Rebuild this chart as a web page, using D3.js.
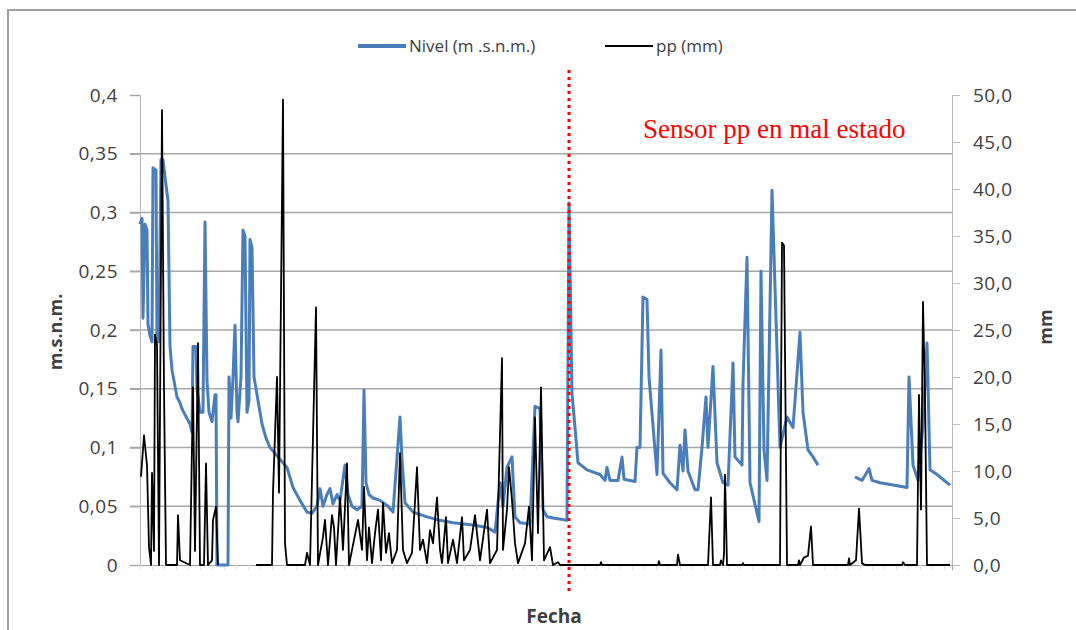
<!DOCTYPE html>
<html>
<head>
<meta charset="utf-8">
<script src="https://cdn.jsdelivr.net/npm/d3@7"></script>
<style>
  body { margin: 0; background: #fff; }
  svg text { font-family: "Open Sans", sans-serif; fill: #404040; }
</style>
</head>
<body>
<svg id="chart" width="1076" height="630"></svg>
<script>
// Nivel (m.s.n.m.) por registro: [registro, valor]; null = sin dato
var nivel = [
  [0,0.29],[2,0.295],[3,0.21],[5,0.29],[7,0.285],[8,0.205],[10,0.195],[12,0.19],[13,0.338],[16,0.336],
  [17,0.19],[19,0.19],[21,0.345],[23,0.345],[25,0.33],[28,0.31],[30,0.186],[32,0.166],[37,0.143],[40,0.138],
  [42,0.133],[45,0.128],[50,0.12],[52,0.113],[53,0.186],[56,0.186],[57,0.15],[60,0.13],[63,0.13],[65,0.292],
  [67,0.157],[69,0.13],[72,0.122],[75,0.145],[76,0.145],[77,0],[88,0],[89,0.16],[91,0.125],[93,0.16],
  [95,0.204],[97,0.13],[98,0.122],[101,0.16],[103,0.285],[105,0.28],[107,0.13],[109,0.14],[110,0.277],[112,0.27],
  [114,0.16],[118,0.14],[122,0.12],[126,0.108],[130,0.1],[135,0.095],[138,0.092],[142,0.088],[147,0.083],[153,0.066],
  [160,0.055],[167,0.045],[172,0.044],[177,0.05],[180,0.065],[183,0.05],[187,0.06],[190,0.065],[193,0.052],[197,0.06],
  [200,0.055],[205,0.085],[208,0.06],[212,0.05],[217,0.047],[222,0.05],[224,0.149],[226,0.07],[229,0.06],[233,0.057],
  [240,0.055],[248,0.05],[253,0.045],[260,0.126],[262,0.09],[265,0.053],[273,0.045],[287,0.041],[300,0.038],[313,0.036],
  [333,0.034],[347,0.032],[355,0.028],[360,0.07],[363,0.05],[367,0.083],[372,0.092],[375,0.041],[380,0.036],[390,0.035],
  [395,0.135],[400,0.133],[403,0.047],[407,0.041],[413,0.04],[427,0.038],[429,0.308],[432,0.146],[435,0.117],[438,0.087],
  [447,0.081],[460,0.077],[465,0.072],[467,0.083],[470,0.072],[478,0.072],[482,0.092],[484,0.073],[495,0.071],[497,0.1],
  [500,0.1],[503,0.228],[507,0.226],[509,0.16],[517,0.077],[521,0.183],[523,0.078],[530,0.07],[537,0.064],[540,0.102],
  [543,0.08],[545,0.115],[548,0.08],[555,0.064],[558,0.064],[562,0.1],[566,0.143],[568,0.1],[573,0.169],[577,0.087],
  [583,0.07],[588,0.068],[593,0.172],[595,0.092],[602,0.085],[603,0.155],[607,0.262],[610,0.07],[619,0.037],[621,0.25],
  [624,0.098],[627,0.072],[632,0.319],[640,0.1],[647,0.126],[653,0.117],[657,0.163],[660,0.198],[663,0.13],[668,0.098],
  [673,0.092],[678,0.085],[679,null],[714,null],[715,0.075],[722,0.072],[729,0.082],[732,0.072],[740,0.07],[753,0.068],
  [767,0.066],[769,0.16],[773,0.085],[778,0.072],[783,0.12],[787,0.189],[790,0.081],[797,0.077],[810,0.068]
];

// pp (mm) por registro: [registro, valor]; null = sin dato
var pp = [
  [1,9.4],[4,13.8],[7,10.6],[9,1.9],[11,0],[12,9.8],[14,1.5],[15,24.5],[17,23.4],[19,0],
  [22,48.4],[24,18.8],[26,0],[37,0],[38,5.3],[40,0.5],[50,0],[53,18.9],[55,1.5],[58,23.6],
  [60,0],[64,0],[66,10.8],[68,0],[72,0.5],[73,4.8],[76,6.2],[78,0],[79,null],[115,null],
  [116,0],[132,0],[133,7.7],[137,20],[139,7.7],[143,49.5],[145,2.3],[147,0],[165,0],[167,1.3],
  [170,0],[176,27.4],[178,0],[183,3],[185,4.8],[188,0],[192,5.3],[194,4],[196,0],[200,7.2],
  [203,1.6],[207,10.8],[209,0],[218,4.8],[222,1.6],[224,8.3],[227,0.5],[229,4],[232,0.2],[235,3.4],
  [238,5.9],[241,0.5],[243,6.6],[246,1.3],[249,3.4],[252,0.2],[257,1.6],[260,11.9],[263,1.6],[267,0.2],
  [272,1.3],[277,10.4],[280,1.6],[283,2.7],[287,0.2],[290,3.7],[293,2.3],[297,7.2],[300,1.6],[302,0.2],
  [306,5.1],[308,0.2],[313,2.7],[317,0.2],[322,5.1],[324,0.5],[330,1.6],[335,5.3],[340,0.5],[347,5.9],
  [350,0.2],[357,1.6],[362,22],[363,1.6],[367,5.9],[369,10.4],[372,6.9],[375,2.3],[378,0.2],[385,2.3],
  [389,6.2],[392,0.5],[395,15.7],[398,3.4],[401,18.9],[404,0.5],[410,1.9],[413,0],[418,0.3],[420,0],
  [460,0],[461,0.3],[462,0],[518,0],[519,0.4],[520,0],[537,0],[538,1.1],[540,0],[568,0],
  [571,7.2],[573,0],[580,0],[581,0.5],[583,0],[584,1.2],[585,9.6],[587,0],[602,0],[603,0.2],
  [604,0],[640,0],[642,34.3],[644,34],[647,0],[658,0],[659,0.5],[660,0],[664,0.8],[668,1],
  [671,4.1],[673,0],[708,0],[709,0.7],[710,0],[716,0.5],[719,6],[722,0.2],[725,0],[762,0],
  [763,0.3],[765,0],[777,0],[779,18.1],[781,5.9],[783,28],[785,18],[787,0],[810,0]
];

// Ticks y etiquetas de los ejes
var nivelTicks = [0, 0.05, 0.1, 0.15, 0.2, 0.25, 0.3, 0.35, 0.4];
var nivelLabels = ["0", "0,05", "0,1", "0,15", "0,2", "0,25", "0,3", "0,35", "0,4"];
var ppTicks = [0, 5, 10, 15, 20, 25, 30, 35, 40, 45, 50];
var ppLabels = ["0,0", "5,0", "10,0", "15,0", "20,0", "25,0", "30,0", "35,0", "40,0", "45,0", "50,0"];

// Registro donde el sensor pp deja de funcionar
var corteRegistro = 429;
var nota = "Sensor pp en mal estado";

var svg = d3.select("#chart");
var plot = {left: 140, right: 952, top: 95, bottom: 565};

var xScale = d3.scaleLinear().domain([0, 812]).range([plot.left, plot.right]);
var yNivel = d3.scaleLinear().domain([0, 0.4]).range([plot.bottom, plot.top]);
var yPp = d3.scaleLinear().domain([0, 50]).range([plot.bottom, plot.top]);

// Marco exterior
svg.append("rect")
   .attr("x", 8).attr("y", 10)
   .attr("width", 1100).attr("height", 700)
   .attr("fill", "none")
   .attr("stroke", "#a0a0a0")
   .attr("stroke-width", 2);

// Lineas de grilla horizontales
svg.append("g")
   .selectAll("line")
   .data(nivelTicks.filter(function(d) {return d > 0 && d < 0.4;}))
   .enter()
   .append("line")
   .attr("x1", plot.left - 10)
   .attr("x2", plot.right)
   .attr("y1", function(d) {return yNivel(d);})
   .attr("y2", function(d) {return yNivel(d);})
   .attr("stroke", "#a8a8a8")
   .attr("stroke-width", 1.5);

// Eje izquierdo
var axisL = svg.append("g")
   .attr("transform", "translate(" + plot.left + ",0)")
   .call(d3.axisLeft(yNivel)
           .tickValues(nivelTicks)
           .tickSize(10)
           .tickPadding(12)
           .tickFormat(function(d, i) {return nivelLabels[i];}));
axisL.select(".domain").attr("stroke", "#b8b8b8");
axisL.selectAll(".tick line").attr("stroke", "#a8a8a8").attr("stroke-width", 1.5);
axisL.selectAll(".tick text")
     .attr("font-size", 19).attr("fill", "#4a4a4a")
     .style("letter-spacing", "0.5px")
     .style("font-family", "'Open Sans', sans-serif");

// Eje derecho
var axisR = svg.append("g")
   .attr("transform", "translate(" + plot.right + ",0)")
   .call(d3.axisRight(yPp)
           .tickValues(ppTicks)
           .tickSize(8)
           .tickPadding(13)
           .tickFormat(function(d, i) {return ppLabels[i];}));
axisR.select(".domain").attr("stroke", "#b8b8b8");
axisR.selectAll(".tick line").attr("stroke", "#bdbdbd");
axisR.selectAll(".tick text")
     .attr("font-size", 19).attr("fill", "#4a4a4a")
     .style("letter-spacing", "0.5px")
     .style("font-family", "'Open Sans', sans-serif");

// Eje inferior (sin etiquetas)
var axisB = svg.append("g")
   .attr("transform", "translate(0," + plot.bottom + ")")
   .call(d3.axisBottom(xScale)
           .tickValues(d3.range(0, 813, 12))
           .tickSize(5)
           .tickFormat(""));
axisB.select(".domain").attr("stroke", "#a0a0a0");
axisB.selectAll(".tick line").attr("stroke", "#e2e2e2");

// Series
var lineNivel = d3.line()
    .defined(function(d) {return d[1] !== null;})
    .x(function(d) {return xScale(d[0]);})
    .y(function(d) {return yNivel(d[1]);});

var linePp = d3.line()
    .defined(function(d) {return d[1] !== null;})
    .x(function(d) {return xScale(d[0]);})
    .y(function(d) {return yPp(d[1]);});

svg.append("path")
   .datum(nivel)
   .attr("d", lineNivel)
   .attr("fill", "none")
   .attr("stroke", "#4a7ebb")
   .attr("stroke-width", 3)
   .attr("stroke-linejoin", "round");

svg.append("path")
   .datum(pp)
   .attr("d", linePp)
   .attr("fill", "none")
   .attr("stroke", "#000")
   .attr("stroke-width", 1.8)
   .attr("stroke-linejoin", "round");

// Linea roja punteada y nota
svg.append("line")
   .attr("x1", xScale(corteRegistro)).attr("x2", xScale(corteRegistro))
   .attr("y1", 70).attr("y2", 594)
   .attr("stroke", "#ff0000")
   .attr("stroke-width", 3)
   .attr("stroke-dasharray", "3,4");

svg.append("text")
   .attr("x", 643).attr("y", 138)
   .style("font-family", "'Liberation Serif', 'Times New Roman', serif")
   .style("fill", "#ff0000")
   .attr("font-size", 27)
   .text(nota);

// Titulos de ejes
svg.append("text")
   .attr("transform", "rotate(-90)")
   .attr("x", -332).attr("y", 62)
   .style("text-anchor", "middle")
   .attr("font-size", 18)
   .attr("font-weight", "bold")
   .text("m.s.n.m.");

svg.append("text")
   .attr("transform", "rotate(-90)")
   .attr("x", -327).attr("y", 1052)
   .style("text-anchor", "middle")
   .attr("font-size", 18)
   .attr("font-weight", "bold")
   .text("mm");

svg.append("text")
   .attr("x", 554).attr("y", 623)
   .style("text-anchor", "middle")
   .attr("font-size", 19)
   .attr("font-weight", "bold")
   .text("Fecha");

// Leyenda
var legend = [
  {label: "Nivel (m .s.n.m.)", color: "#4a7ebb", width: 4, x: 358},
  {label: "pp (mm)", color: "#000", width: 2, x: 605}
];
var items = svg.append("g").selectAll("g")
   .data(legend)
   .enter()
   .append("g")
   .attr("transform", function(d) {return "translate(" + d.x + ",46)";});
items.append("line")
   .attr("x1", 0).attr("x2", 48)
   .attr("stroke", function(d) {return d.color;})
   .attr("stroke-width", function(d) {return d.width;});
items.append("text")
   .attr("x", 51).attr("y", 6)
   .attr("font-size", 17)
   .text(function(d) {return d.label;});
</script>
</body>
</html>
